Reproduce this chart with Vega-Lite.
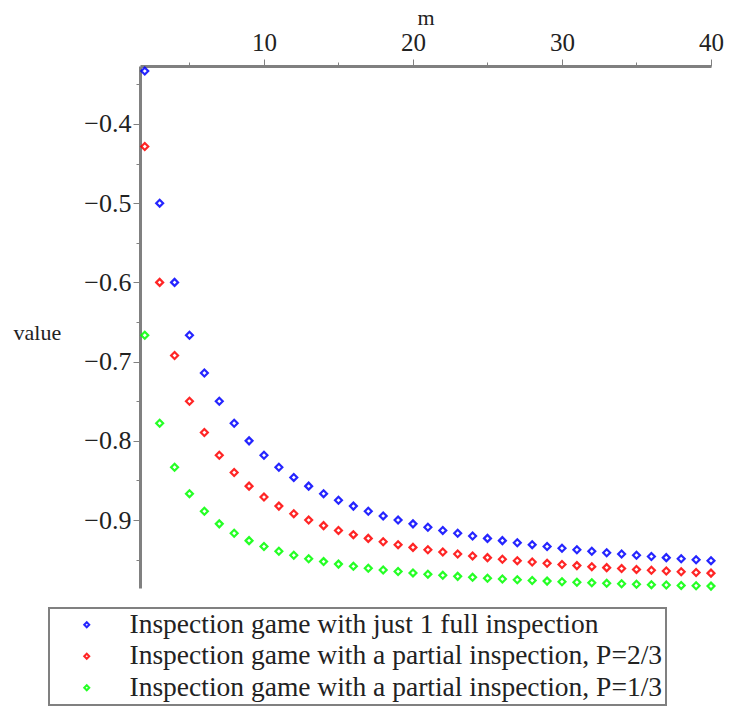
{
  "$schema": "https://vega.github.io/schema/vega-lite/v6.json",
  "width": 571,
  "height": 522,
  "autosize": {"type": "none"},
  "padding": {"left": 140, "top": 66, "right": 18, "bottom": 119},
  "background": "white",
  "config": {
    "view": {"stroke": null},
    "font": "Liberation Serif",
    "axis": {"grid": false, "labelFont": "Liberation Serif", "titleFont": "Liberation Serif", "labelColor": "#222222", "titleColor": "#222222", "titleFontWeight": "normal", "domainColor": "#808080", "domainWidth": 3, "tickColor": "#808080", "tickWidth": 1},
    "legend": {"labelFont": "Liberation Serif", "strokeWidth": 2}
  },
  "data": {
    "values": [
      {"m": 2, "A": -0.33333, "B": -0.42857, "C": -0.66667},
      {"m": 3, "A": -0.5, "B": -0.6, "C": -0.77778},
      {"m": 4, "A": -0.6, "B": -0.69231, "C": -0.83333},
      {"m": 5, "A": -0.66667, "B": -0.75, "C": -0.86667},
      {"m": 6, "A": -0.71429, "B": -0.78947, "C": -0.88889},
      {"m": 7, "A": -0.75, "B": -0.81818, "C": -0.90476},
      {"m": 8, "A": -0.77778, "B": -0.84, "C": -0.91667},
      {"m": 9, "A": -0.8, "B": -0.85714, "C": -0.92593},
      {"m": 10, "A": -0.81818, "B": -0.87097, "C": -0.93333},
      {"m": 11, "A": -0.83333, "B": -0.88235, "C": -0.93939},
      {"m": 12, "A": -0.84615, "B": -0.89189, "C": -0.94444},
      {"m": 13, "A": -0.85714, "B": -0.9, "C": -0.94872},
      {"m": 14, "A": -0.86667, "B": -0.90698, "C": -0.95238},
      {"m": 15, "A": -0.875, "B": -0.91304, "C": -0.95556},
      {"m": 16, "A": -0.88235, "B": -0.91837, "C": -0.95833},
      {"m": 17, "A": -0.88889, "B": -0.92308, "C": -0.96078},
      {"m": 18, "A": -0.89474, "B": -0.92727, "C": -0.96296},
      {"m": 19, "A": -0.9, "B": -0.93103, "C": -0.96491},
      {"m": 20, "A": -0.90476, "B": -0.93443, "C": -0.96667},
      {"m": 21, "A": -0.90909, "B": -0.9375, "C": -0.96825},
      {"m": 22, "A": -0.91304, "B": -0.9403, "C": -0.9697},
      {"m": 23, "A": -0.91667, "B": -0.94286, "C": -0.97101},
      {"m": 24, "A": -0.92, "B": -0.94521, "C": -0.97222},
      {"m": 25, "A": -0.92308, "B": -0.94737, "C": -0.97333},
      {"m": 26, "A": -0.92593, "B": -0.94937, "C": -0.97436},
      {"m": 27, "A": -0.92857, "B": -0.95122, "C": -0.97531},
      {"m": 28, "A": -0.93103, "B": -0.95294, "C": -0.97619},
      {"m": 29, "A": -0.93333, "B": -0.95455, "C": -0.97701},
      {"m": 30, "A": -0.93548, "B": -0.95604, "C": -0.97778},
      {"m": 31, "A": -0.9375, "B": -0.95745, "C": -0.97849},
      {"m": 32, "A": -0.93939, "B": -0.95876, "C": -0.97917},
      {"m": 33, "A": -0.94118, "B": -0.96, "C": -0.9798},
      {"m": 34, "A": -0.94286, "B": -0.96117, "C": -0.98039},
      {"m": 35, "A": -0.94444, "B": -0.96226, "C": -0.98095},
      {"m": 36, "A": -0.94595, "B": -0.9633, "C": -0.98148},
      {"m": 37, "A": -0.94737, "B": -0.96429, "C": -0.98198},
      {"m": 38, "A": -0.94872, "B": -0.96522, "C": -0.98246},
      {"m": 39, "A": -0.95, "B": -0.9661, "C": -0.98291},
      {"m": 40, "A": -0.95122, "B": -0.96694, "C": -0.98333}
    ]
  },
  "transform": [{"fold": ["A", "B", "C"], "as": ["series", "value"]}],
  "mark": {"type": "point", "shape": "diamond", "filled": false, "strokeWidth": 2.2, "size": 48, "opacity": 0.85, "clip": false},
  "encoding": {
    "x": {
      "field": "m", "type": "quantitative",
      "scale": {"domain": [1.68, 40], "nice": false, "zero": false},
      "axis": {
        "orient": "top", "title": "m", "titleFontSize": 22, "titleY": -49, "titleBaseline": "middle",
        "values": [5, 10, 15, 20, 25, 30, 35, 40],
        "labelExpr": "datum.value % 10 === 0 ? datum.label : ''",
        "labelFontSize": 25, "labelPadding": 4, "labelFlush": false,
        "tickSize": {"condition": {"test": "datum.value % 10 === 0", "value": 7}, "value": 4}
      }
    },
    "y": {
      "field": "value", "type": "quantitative",
      "scale": {"domain": [-0.9857, -0.3269], "nice": false, "zero": false},
      "axis": {
        "title": "value", "titleAngle": 0, "titleFontSize": 22, "titleX": -127, "titleY": 266, "titleAlign": "left", "titleBaseline": "middle",
        "values": [-0.95, -0.9, -0.85, -0.8, -0.75, -0.7, -0.65, -0.6, -0.55, -0.5, -0.45, -0.4, -0.35],
        "format": ".1f",
        "labelExpr": "abs(datum.value * 10 - round(datum.value * 10)) < 0.001 ? datum.label : ''",
        "labelFontSize": 26, "labelPadding": 2, "labelFlush": false,
        "tickSize": {"condition": {"test": "abs(datum.value * 10 - round(datum.value * 10)) < 0.001", "value": 7}, "value": 4}
      }
    },
    "color": {
      "field": "series", "type": "nominal",
      "scale": {"domain": ["A", "B", "C"], "range": ["#0000ff", "#ff0000", "#00ff00"]},
      "legend": {
        "orient": "none", "legendX": -91, "legendY": 542, "title": null,
        "strokeColor": "#808080", "padding": 3,
        "labelExpr": "datum.value === 'A' ? 'Inspection game with just 1 full inspection' : datum.value === 'B' ? 'Inspection game with a partial inspection, P=2/3' : 'Inspection game with a partial inspection, P=1/3'",
        "labelFontSize": 27.5, "labelColor": "#222222", "labelLimit": 0,
        "symbolType": "diamond", "symbolSize": 25, "symbolStrokeWidth": 2, "symbolFillColor": "white",
        "symbolOffset": 21, "labelOffset": 29, "rowPadding": 2.5
      }
    }
  }
}
